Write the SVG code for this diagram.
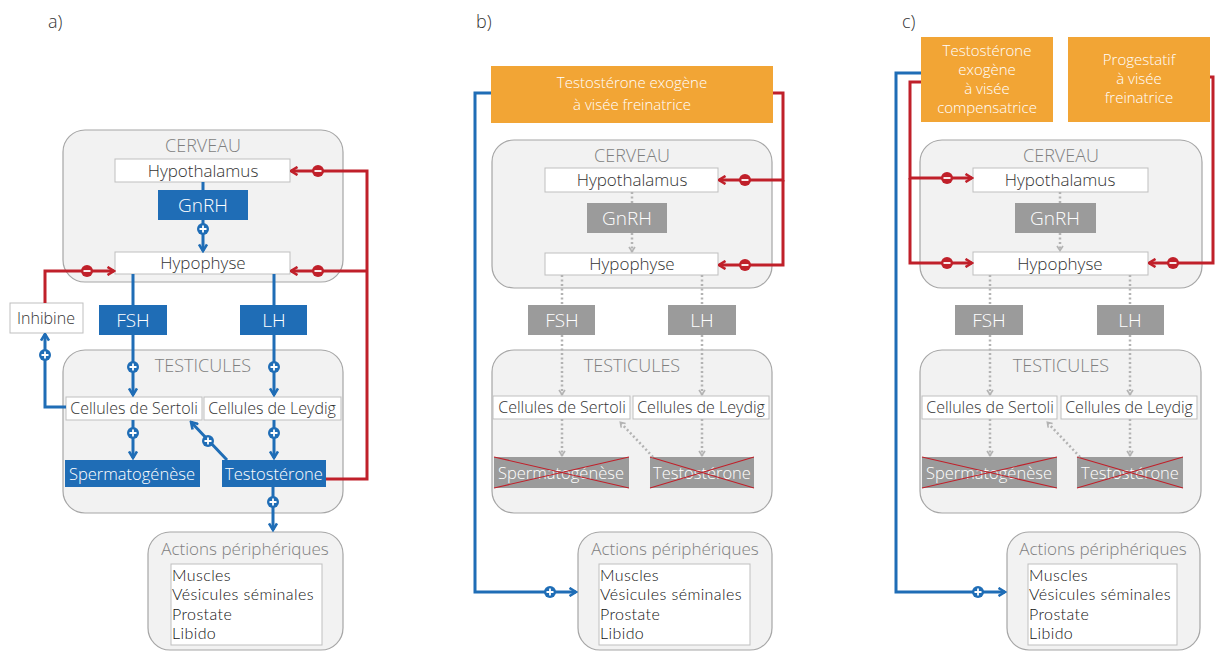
<svg xmlns="http://www.w3.org/2000/svg" width="1216" height="652" viewBox="0 0 1216 652">
<style>
text{font-family:"Open Sans","Liberation Sans",sans-serif;font-weight:300;text-anchor:middle}
.cont{fill:#F2F2F2;stroke:#A6A6A6;stroke-width:1.2}
.wbox{fill:#FFFFFF;stroke:#BFBFBF;stroke-width:1}
.blue{fill:#1F6DB6}
.gray{fill:#9B9B9B}
.orange{fill:#F2A535}
.ttl{font-size:18px;fill:#7F7F7F}
.act{font-size:17px;fill:#7F7F7F}
.lbl{font-size:17px;fill:#333333}
.cel{font-size:16px;fill:#333333}
.wt{font-size:19px;fill:#FFFFFF}
.wt2{font-size:16.5px;fill:#FFFFFF}
.ot{font-size:15px;fill:#FFFFFF}
.list{font-family:Lato,"Open Sans",sans-serif;font-weight:300;font-size:16px;letter-spacing:0.4px;fill:#111111;text-anchor:start}
.pl{font-size:18px;fill:#333333;text-anchor:start}
.lb{fill:none;stroke:#1F6DB6;stroke-width:3}
.lr{fill:none;stroke:#C0202A;stroke-width:3}
.ld{fill:none;stroke:#B3B3B3;stroke-width:2.5;stroke-dasharray:2 2.5}
.x{stroke:#C0202A;stroke-width:1.1}
</style>
<defs>
<marker id="ab" viewBox="0 0 10 10" refX="8.5" refY="5" markerWidth="10" markerHeight="10" markerUnits="userSpaceOnUse" orient="auto"><path d="M2,1 L8.5,5 L2,9" fill="none" stroke="#1F6DB6" stroke-width="2.6"/></marker>
<marker id="ar" viewBox="0 0 10 10" refX="8.5" refY="5" markerWidth="10" markerHeight="10" markerUnits="userSpaceOnUse" orient="auto"><path d="M2,1 L8.5,5 L2,9" fill="none" stroke="#C0202A" stroke-width="2.6"/></marker>
<marker id="ag" viewBox="0 0 8 8" refX="7" refY="4" markerWidth="8" markerHeight="8" markerUnits="userSpaceOnUse" orient="auto"><path d="M2,1 L6.5,4 L2,7" fill="none" stroke="#B3B3B3" stroke-width="1.6"/></marker>
<g id="plus"><circle r="6" fill="#1F6DB6"/><path d="M-3.5,0 H3.5 M0,-3.5 V3.5" stroke="#FFFFFF" stroke-width="1.8"/></g>
<g id="minus"><circle r="6" fill="#C0202A"/><path d="M-3.5,0 H3.5" stroke="#FFFFFF" stroke-width="1.8"/></g>
</defs>
<rect width="1216" height="652" fill="#FFFFFF"/>

<g id="labels">
<text x="48" y="28" class="pl">a)</text>
<text x="476" y="28" class="pl">b)</text>
<text x="902" y="28" class="pl">c)</text>
</g>

<!-- ===== Panel a ===== -->
<g id="a-cerveau"><rect x="63" y="130" width="280" height="152" rx="22" class="cont"/><text x="203" y="152" class="ttl">CERVEAU</text></g>
<g id="a-testicules"><rect x="63" y="350" width="280" height="163" rx="22" class="cont"/><text x="203" y="372" class="ttl">TESTICULES</text></g>
<g id="a-actions"><rect x="148" y="532" width="195" height="118" rx="22" class="cont"/><text x="245" y="555" class="act">Actions périphériques</text>
<rect x="171" y="564" width="151" height="81" class="wbox"/>
<text class="list"><tspan x="172" y="581">Muscles</tspan><tspan x="172" y="600.3">Vésicules séminales</tspan><tspan x="172" y="619.6">Prostate</tspan><tspan x="172" y="638.9">Libido</tspan></text></g>
<g id="a-hypothalamus"><rect x="115" y="159" width="175" height="23" class="wbox"/><text x="203" y="177" class="lbl">Hypothalamus</text></g>
<g id="a-gnrh"><rect x="158" y="190" width="90" height="30" class="blue"/><text x="203" y="212" class="wt">GnRH</text></g>
<g id="a-hypophyse"><rect x="115" y="252" width="175" height="22" class="wbox"/><text x="203" y="269" class="lbl">Hypophyse</text></g>
<g id="a-inhibine"><rect x="10" y="303" width="73" height="30" class="wbox"/><text x="46" y="324" class="cel" fill="#666">Inhibine</text></g>
<g id="a-fsh"><rect x="99" y="305" width="68" height="30" class="blue"/><text x="133" y="327" class="wt">FSH</text></g>
<g id="a-lh"><rect x="240" y="305" width="67" height="30" class="blue"/><text x="274" y="327" class="wt">LH</text></g>
<g id="a-sertoli"><rect x="66" y="397" width="136" height="23" class="wbox"/><text x="134" y="414" class="cel">Cellules de Sertoli</text></g>
<g id="a-leydig"><rect x="204" y="397" width="137" height="23" class="wbox"/><text x="272" y="414" class="cel">Cellules de Leydig</text></g>
<g id="a-sperm"><rect x="65" y="460" width="135" height="27" class="blue"/><text x="132" y="480" class="wt2">Spermatogénèse</text></g>
<g id="a-testo"><rect x="222" y="460" width="104" height="27" class="blue"/><text x="274" y="480" class="wt2">Testostérone</text></g>

<!-- ===== Panel b ===== -->
<g id="b-exo"><rect x="491" y="66" width="282" height="57" class="orange"/><text x="632" y="88" class="ot">Testostérone exogène</text><text x="632" y="110" class="ot">à visée freinatrice</text></g>
<g id="b-cerveau"><rect x="492" y="140" width="280" height="148" rx="22" class="cont"/><text x="632" y="162" class="ttl">CERVEAU</text></g>
<g id="b-testicules"><rect x="492" y="350" width="280" height="163" rx="22" class="cont"/><text x="632" y="372" class="ttl">TESTICULES</text></g>
<g id="b-actions"><rect x="578" y="532" width="194" height="118" rx="22" class="cont"/><text x="675" y="555" class="act">Actions périphériques</text>
<rect x="599" y="564" width="151" height="81" class="wbox"/>
<text class="list"><tspan x="600" y="581">Muscles</tspan><tspan x="600" y="600.3">Vésicules séminales</tspan><tspan x="600" y="619.6">Prostate</tspan><tspan x="600" y="638.9">Libido</tspan></text></g>
<g id="b-hypothalamus"><rect x="545" y="168" width="173" height="24" class="wbox"/><text x="632" y="186" class="lbl">Hypothalamus</text></g>
<g id="b-gnrh"><rect x="587" y="203" width="80" height="30" class="gray"/><text x="627" y="225" class="wt">GnRH</text></g>
<g id="b-hypophyse"><rect x="545" y="253" width="173" height="22" class="wbox"/><text x="632" y="270" class="lbl">Hypophyse</text></g>
<g id="b-fsh"><rect x="528" y="305" width="67" height="30" class="gray"/><text x="562" y="327" class="wt">FSH</text></g>
<g id="b-lh"><rect x="668" y="305" width="68" height="30" class="gray"/><text x="702" y="327" class="wt">LH</text></g>
<g id="b-sertoli"><rect x="493" y="396" width="137" height="23" class="wbox"/><text x="562" y="413" class="cel">Cellules de Sertoli</text></g>
<g id="b-leydig"><rect x="633" y="396" width="136" height="23" class="wbox"/><text x="701" y="413" class="cel">Cellules de Leydig</text></g>
<g id="b-sperm"><rect x="494" y="457" width="135" height="31" class="gray"/><text x="561" y="479" class="wt2">Spermatogénèse</text><path d="M494,457 L629,488 M494,488 L629,457" class="x"/></g>
<g id="b-testo"><rect x="650" y="457" width="104" height="31" class="gray"/><text x="702" y="479" class="wt2">Testostérone</text><path d="M650,457 L754,488 M650,488 L754,457" class="x"/></g>

<!-- ===== Panel c ===== -->
<g id="c-exo"><rect x="921" y="37" width="132" height="85" class="orange"/><text x="987" y="56" class="ot">Testostérone</text><text x="987" y="75" class="ot">exogène</text><text x="987" y="94" class="ot">à visée</text><text x="987" y="113" class="ot">compensatrice</text></g>
<g id="c-prog"><rect x="1068" y="37" width="142" height="85" class="orange"/><text x="1139" y="65" class="ot">Progestatif</text><text x="1139" y="84" class="ot">à visée</text><text x="1139" y="103" class="ot">freinatrice</text></g>
<g id="c-cerveau"><rect x="920" y="140" width="282" height="148" rx="22" class="cont"/><text x="1061" y="162" class="ttl">CERVEAU</text></g>
<g id="c-testicules"><rect x="920" y="350" width="281" height="163" rx="22" class="cont"/><text x="1061" y="372" class="ttl">TESTICULES</text></g>
<g id="c-actions"><rect x="1007" y="532" width="193" height="118" rx="22" class="cont"/><text x="1103" y="555" class="act">Actions périphériques</text>
<rect x="1028" y="564" width="149" height="81" class="wbox"/>
<text class="list"><tspan x="1029" y="581">Muscles</tspan><tspan x="1029" y="600.3">Vésicules séminales</tspan><tspan x="1029" y="619.6">Prostate</tspan><tspan x="1029" y="638.9">Libido</tspan></text></g>
<g id="c-hypothalamus"><rect x="973" y="168" width="175" height="24" class="wbox"/><text x="1060" y="186" class="lbl">Hypothalamus</text></g>
<g id="c-gnrh"><rect x="1015" y="203" width="81" height="30" class="gray"/><text x="1055" y="225" class="wt">GnRH</text></g>
<g id="c-hypophyse"><rect x="973" y="252" width="175" height="23" class="wbox"/><text x="1060" y="270" class="lbl">Hypophyse</text></g>
<g id="c-fsh"><rect x="955" y="305" width="68" height="30" class="gray"/><text x="989" y="327" class="wt">FSH</text></g>
<g id="c-lh"><rect x="1097" y="305" width="67" height="30" class="gray"/><text x="1130" y="327" class="wt">LH</text></g>
<g id="c-sertoli"><rect x="922" y="396" width="135" height="23" class="wbox"/><text x="990" y="413" class="cel">Cellules de Sertoli</text></g>
<g id="c-leydig"><rect x="1061" y="396" width="136" height="23" class="wbox"/><text x="1129" y="413" class="cel">Cellules de Leydig</text></g>
<g id="c-sperm"><rect x="922" y="457" width="135" height="31" class="gray"/><text x="989" y="479" class="wt2">Spermatogénèse</text><path d="M922,457 L1057,488 M922,488 L1057,457" class="x"/></g>
<g id="c-testo"><rect x="1077" y="457" width="106" height="31" class="gray"/><text x="1130" y="479" class="wt2">Testostérone</text><path d="M1077,457 L1183,488 M1077,488 L1183,457" class="x"/></g>

<g id="connectors">
<!-- a -->
<path d="M203,182 V190" class="lb"/>
<path d="M203,220 V251" class="lb" marker-end="url(#ab)"/>
<path d="M133,274 V305 M274,274 V305" class="lb"/>
<path d="M133,335 V395" class="lb" marker-end="url(#ab)"/>
<path d="M274,335 V395" class="lb" marker-end="url(#ab)"/>
<path d="M66,407 H45 V334" class="lb" marker-end="url(#ab)"/>
<path d="M133,420 V458" class="lb" marker-end="url(#ab)"/>
<path d="M274,420 V458" class="lb" marker-end="url(#ab)"/>
<path d="M227,460 L191,422" class="lb" marker-end="url(#ab)"/>
<path d="M273,487 V530" class="lb" marker-end="url(#ab)"/>
<path d="M326,479 H367 V171 H291" class="lr" marker-end="url(#ar)"/>
<path d="M367,271 H291" class="lr" marker-end="url(#ar)"/>
<path d="M45,303 V271 H114" class="lr" marker-end="url(#ar)"/>
<use href="#plus" x="203" y="229"/>
<use href="#plus" x="133" y="367"/>
<use href="#plus" x="274" y="367"/>
<use href="#plus" x="45" y="355"/>
<use href="#plus" x="133" y="433"/>
<use href="#plus" x="274" y="433"/>
<use href="#plus" x="208" y="441"/>
<use href="#plus" x="273" y="502"/>
<use href="#minus" x="318" y="171"/>
<use href="#minus" x="318" y="271"/>
<use href="#minus" x="87" y="271"/>
<!-- b -->
<path d="M632,192 V203" class="ld"/>
<path d="M632,233 V252" class="ld" marker-end="url(#ag)"/>
<path d="M562,275 V305 M702,275 V305" class="ld"/>
<path d="M562,335 V395" class="ld" marker-end="url(#ag)"/>
<path d="M702,335 V395" class="ld" marker-end="url(#ag)"/>
<path d="M562,419 V456" class="ld" marker-end="url(#ag)"/>
<path d="M702,419 V456" class="ld" marker-end="url(#ag)"/>
<path d="M653,457 L620,422" class="ld" marker-end="url(#ag)"/>
<path d="M773,93 H783 V180 H719" class="lr" marker-end="url(#ar)"/>
<path d="M783,180 V265 H719" class="lr" marker-end="url(#ar)"/>
<path d="M491,93 H475 V592 H576" class="lb" marker-end="url(#ab)"/>
<use href="#minus" x="745" y="180"/>
<use href="#minus" x="745" y="265"/>
<use href="#plus" x="550" y="592"/>
<!-- c -->
<path d="M1060,192 V203" class="ld"/>
<path d="M1060,233 V251" class="ld" marker-end="url(#ag)"/>
<path d="M990,275 V305 M1130,275 V305" class="ld"/>
<path d="M990,335 V395" class="ld" marker-end="url(#ag)"/>
<path d="M1130,335 V395" class="ld" marker-end="url(#ag)"/>
<path d="M990,419 V456" class="ld" marker-end="url(#ag)"/>
<path d="M1130,419 V456" class="ld" marker-end="url(#ag)"/>
<path d="M1080,457 L1047,422" class="ld" marker-end="url(#ag)"/>
<path d="M921,82 H910 V178 H972" class="lr" marker-end="url(#ar)"/>
<path d="M910,178 V263 H972" class="lr" marker-end="url(#ar)"/>
<path d="M1210,77 H1213 V263 H1149" class="lr" marker-end="url(#ar)"/>
<path d="M921,73 H896 V592 H1005" class="lb" marker-end="url(#ab)"/>
<use href="#minus" x="947" y="178"/>
<use href="#minus" x="947" y="263"/>
<use href="#minus" x="1173" y="263"/>
<use href="#plus" x="978" y="592"/>
</g>
</svg>
